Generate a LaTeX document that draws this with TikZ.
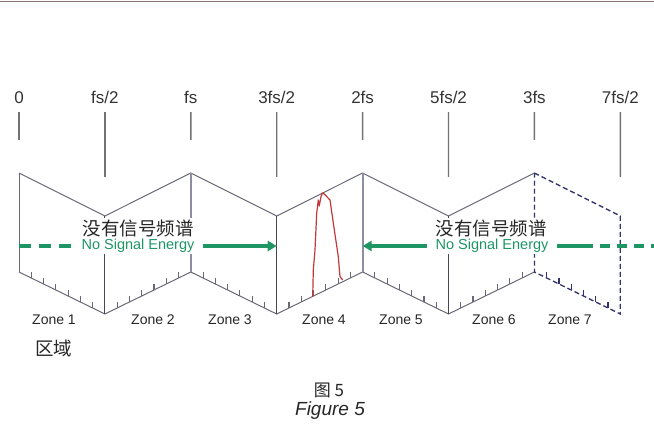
\documentclass[tikz,border=0pt]{standalone}
\usepackage{fontspec}
\setmainfont{Liberation Sans}
\newfontfamily\cjk{Noto Sans CJK SC}
\usepackage{tikz}
\usetikzlibrary{calc, arrows.meta}

\definecolor{panelgray}{RGB}{105,105,118}
\definecolor{foldgray}{RGB}{140,140,165}
\definecolor{edgedark}{RGB}{70,70,85}
\definecolor{zonenavy}{RGB}{50,50,110}
\definecolor{energygreen}{RGB}{30,150,100}
\definecolor{specred}{RGB}{195,55,55}
\definecolor{rulegray}{RGB}{140,115,115}

\tikzstyle{freq} = [inner xsep=2pt, inner ysep=8.5pt, text depth=0pt,
font=\fontsize{17}{20}\selectfont, text=black!80]
\tikzstyle{zone} = [inner sep=0pt, font=\fontsize{14}{16}\selectfont, text=black!85]
\tikzstyle{cjktext} = [inner sep=1pt, fill=white, font=\cjk\fontsize{18.5}{22}\selectfont, text=black!85]
\tikzstyle{energy} = [inner xsep=8pt, inner ysep=1pt, fill=white, text=energygreen,
font=\fontsize{14.5}{17}\selectfont]
\tikzstyle{labelline} = [draw=black!55, line width=1.4pt]
\tikzstyle{panel} = [draw=panelgray, line width=1pt]
\tikzstyle{zoneseven} = [draw=zonenavy, line width=1.3pt, dash pattern=on 5pt off 3pt]
\tikzstyle{arrow} = [draw=energygreen, line width=3.5pt, -{Triangle[length=9pt,width=10pt]}]
\tikzstyle{greenline} = [draw=energygreen, line width=3.5pt]
\tikzstyle{dashline} = [greenline, dash pattern=on 12pt off 8pt]

\begin{document}
\begin{tikzpicture}[x=1pt, y=-1pt]

\useasboundingbox (0,0) rectangle (654,430);

% ------------------------- coordinates -------------------------
\foreach \i in {0,...,7}{
  \pgfmathsetmacro{\xx}{19+85.9*\i}
  \pgfmathsetmacro{\yt}{isodd(\i) ? 216 : 173}
  \pgfmathsetmacro{\yb}{isodd(\i) ? 314 : 272}
  \pgfmathsetmacro{\yl}{isodd(\i) ? 177 : 140}
  \coordinate (t\i) at (\xx,\yt);
  \coordinate (b\i) at (\xx,\yb);
  \coordinate (lb\i) at (\xx,\yl);
  \coordinate (m\i) at (\xx,246);
}
\coordinate (ruleL) at (0,1.5);
\coordinate (ruleR) at (654,1.5);
\coordinate (rs) at (593,246);
\coordinate (rd) at (600,246);
\coordinate (rend) at (654,246);

% ------------------------- top rule -------------------------
\draw[rulegray, line width=1pt] (ruleL) -- (ruleR);

% ------------------------- frequency labels -------------------------
\node(l0)[freq, anchor=base] at (19,103.5) {0};
\node(l1)[freq, anchor=base] at (104.9,103.5) {fs/2};
\node(l2)[freq, anchor=base] at (190.8,103.5) {fs};
\node(l3)[freq, anchor=base] at (276.7,103.5) {3fs/2};
\node(l4)[freq, anchor=base] at (362.6,103.5) {2fs};
\node(l5)[freq, anchor=base] at (448.5,103.5) {5fs/2};
\node(l6)[freq, anchor=base] at (534.4,103.5) {3fs};
\node(l7)[freq, anchor=base] at (620.3,103.5) {7fs/2};
\foreach \i in {0,...,7}
  \draw[labelline] (l\i) -- (lb\i);

% ------------------------- folded panels -------------------------
\draw[panel] (t0) \foreach \i in {1,...,6}{ -- (t\i)};
\draw[panel] (b0) \foreach \i in {1,...,6}{ -- (b\i)};
\draw[panel] (t0) -- (b0);
\foreach \i in {1,3,5}
  \draw[panel, draw=edgedark] (t\i) -- (b\i);
\draw[panel, draw=foldgray, line width=2.2pt] (t2) -- (b2);
\draw[panel, draw=foldgray, line width=2.2pt] (t4) -- (b4);
% ticks on the bottom edges
\foreach \i [evaluate=\i as \j using int(\i+1)] in {0,...,5}
  \foreach \k in {1,...,6}
    \draw[panel, line width=1.1pt] ($(b\i)!\k/7!(b\j)$) -- ++(0,-6);
% zone 7 (dashed)
\draw[zoneseven] (t6) -- (t7) -- (b7) -- (b6) -- cycle;
\foreach \k in {1,...,6}
  \draw[draw=zonenavy, line width=1.2pt] ($(b6)!\k/7!(b7)$) -- ++(0,-6);

% ------------------------- signal in zone 4 -------------------------
\draw[specred, line width=1.2pt, line join=round] (312.7,296.7) -- (313.3,270) -- (315,250)
  -- (316.7,213) -- (317.7,205) -- (318.3,200) -- (319.3,206) -- (320.7,198)
  -- (322.3,193) -- (324.3,194) -- (330,200) -- (333.3,223) -- (338.3,256.7)
  -- (340,276.7) -- (342.7,280);

% ------------------------- no signal energy -------------------------
\node(lzh)[cjktext] at (138,228) {没有信号频谱};
\node(len)[energy] at (138,246) {No Signal Energy};
\node(rzh)[cjktext] at (491,228) {没有信号频谱};
\node(ren)[energy] at (492,246) {No Signal Energy};

\draw[dashline](m0)--(len);
\draw[arrow](len)--(m3);
\draw[arrow](ren)--(m4);
\draw[greenline](ren)--(rs);
\draw[dashline, dash pattern=on 10pt off 7pt](rd)--(rend);

% ------------------------- zones -------------------------
\node(z1)[zone] at (54,320) {Zone 1};
\node(z2)[zone] at (153,320) {Zone 2};
\node(z3)[zone] at (230,320) {Zone 3};
\node(z4)[zone] at (324,320) {Zone 4};
\node(z5)[zone] at (401,320) {Zone 5};
\node(z6)[zone] at (494,320) {Zone 6};
\node(z7)[zone] at (570,320) {Zone 7};
\node(area)[cjktext] at (53.5,348.5) {区域};

% ------------------------- caption -------------------------
\node(capzh)[cjktext, font=\cjk\fontsize{17}{20}\selectfont] at (329,390.5) {图 5};
\node(capen)[anchor=base, font=\fontsize{19}{22}\selectfont\itshape, text=black!85] at (330,416) {Figure 5};

\end{tikzpicture}
\end{document}
